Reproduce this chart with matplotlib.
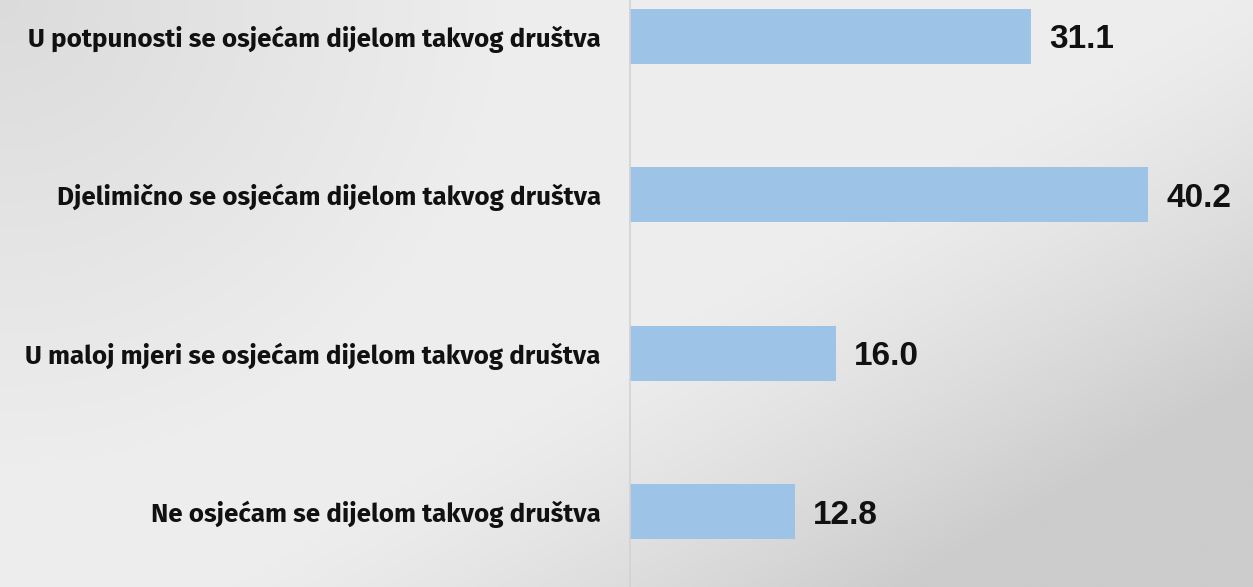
import numpy as np
import matplotlib
matplotlib.use("Agg")
import matplotlib.pyplot as plt
from matplotlib import font_manager

categories = [
    "U potpunosti se osjećam dijelom takvog društva",
    "Djelimično se osjećam dijelom takvog društva",
    "U maloj mjeri se osjećam dijelom takvog društva",
    "Ne osjećam se dijelom takvog društva",
]
values = [31.1, 40.2, 16.0, 12.8]

value_fam = ["Liberation Sans", "DejaVu Sans"]

W, H = 1253, 587
fig = plt.figure(figsize=(W / 100, H / 100), dpi=100)
renderer = fig.canvas.get_renderer()

# choose a label font whose width at ~17pt best matches the reference (574 px)
installed = {f.name for f in font_manager.fontManager.ttflist}
candidates = ["Encode Sans Semi Condensed", "Fira Sans", "IBM Plex Sans Condensed",
              "Barlow Semi Condensed", "Fira Sans Condensed"]
target = 574
best = None
for name in candidates:
    if name not in installed:
        continue
    t = fig.text(0, 0, categories[0], fontsize=17, fontweight="bold", family=[name])
    w = t.get_window_extent(renderer).width
    t.remove()
    score = abs(np.log(w / target))
    if best is None or score < best[0]:
        best = (score, name, w)
if best is None:
    label_name, label_size = "DejaVu Sans", 17
else:
    label_name = best[1]
    label_size = float(np.clip(17 * target / best[2], 15.5, 19))
label_fam = [label_name, "DejaVu Sans"]

# background gradient (decorative)
bg = fig.add_axes([0, 0, 1, 1], zorder=-10)
yy, xx = np.mgrid[0:1:300j, 0:1:600j]
tl = np.clip(1 - np.sqrt((xx / 0.4) ** 2 + (yy / 0.8) ** 2), 0, 1)
u = (xx - 0.64) * 1.0 + (yy - 0.42) * 0.8
br = np.clip(u / 0.55, 0, 1) ** 1.3
g = 0.93 - 0.07 * tl - 0.13 * br
bg.imshow(np.dstack([g, g, g]), aspect="auto", extent=[0, 1, 0, 1], origin="upper",
          interpolation="bilinear")
bg.axis("off")

x0 = 630
scale = 12.886
xmax = 48
ax = fig.add_axes([x0 / W, -4 / H, xmax * scale / W, 634 / H])
ax.patch.set_alpha(0)
ypos = np.arange(len(categories))
ax.barh(ypos, values, height=0.35, color="#9DC3E6")
ax.set_ylim(len(categories) - 0.5, -0.5)
ax.set_xlim(0, xmax)
for s in ["top", "right", "bottom"]:
    ax.spines[s].set_visible(False)
ax.spines["left"].set_color("#d2d2d2")
ax.spines["left"].set_linewidth(1.2)
ax.set_xticks([])
ax.set_yticks(ypos)
ax.set_yticklabels(categories, fontsize=label_size, fontweight="bold", family=label_fam,
                   color="#111111")
ax.tick_params(axis="y", length=0, pad=21)
for y, v in zip(ypos, values):
    ax.annotate(f"{v:.1f}", xy=(v, y), xytext=(13, -2.5), textcoords="offset points",
                va="center", ha="left", fontsize=24, fontweight="bold",
                family=value_fam, color="#111111")

fig.savefig("out.png", dpi=100)
